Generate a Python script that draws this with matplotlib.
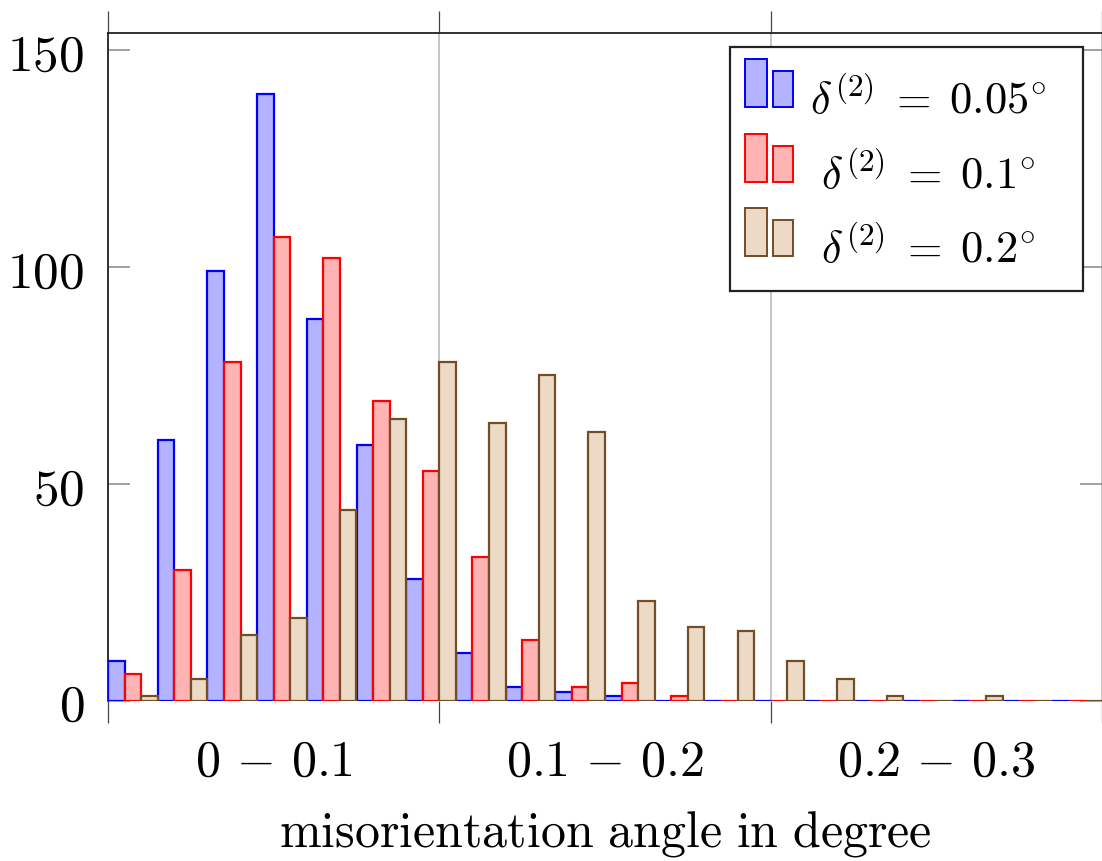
import numpy as np
import matplotlib
matplotlib.use("Agg")
import matplotlib.pyplot as plt
from matplotlib.patches import Rectangle

plt.rcParams['mathtext.fontset'] = 'cm'

# histogram of misorientation angles, 20 bins of 0.015 degree
bin_width = 0.015
bin_edges = np.arange(20) * bin_width

counts_005 = [9, 60, 99, 140, 88, 59, 28, 11, 3, 2, 1, 0, 0, 0, 0, 0, 0, 0, 0, 0]
counts_01 = [6, 30, 78, 107, 102, 69, 53, 33, 14, 3, 4, 1, 0, 0, 0, 0, 0, 0, 0, 0]
counts_02 = [1, 5, 15, 19, 44, 65, 78, 64, 75, 62, 23, 17, 16, 9, 5, 1, 0, 1, 0, 0]

series = [counts_005, counts_01, counts_02]
labels = [r'$\delta^{(2)}\;=\;0.05^{\circ}$', r'$\delta^{(2)}\;=\;0.1^{\circ}$', r'$\delta^{(2)}\;=\;0.2^{\circ}$']
fills = ['#b3b3ff', '#ffb3b3', '#ecd9c6']
edges = ['#0000ff', '#ff0000', '#734d26']

group_ticks = [0.05, 0.15, 0.25]
group_labels = [r'$0\,-\,0.1$', r'$0.1\,-\,0.2$', r'$0.2\,-\,0.3$']
yticks = [0, 50, 100, 150]

fig = plt.figure(figsize=(11.02, 8.62), dpi=100)
ax = fig.add_axes([108 / 1102, 160.5 / 862, 994 / 1102, 667.5 / 862])

w = bin_width / 3
for k in range(3):
    ax.bar(bin_edges + k * w, series[k], width=w, align='edge',
           color=fills[k], edgecolor=edges[k], linewidth=1.6, zorder=3)

ax.set_xlim(0, 0.3)
ax.set_ylim(0, 154)

# x: group boundaries as outward ticks + grid, labels between them
ax.set_xticks([0, 0.1, 0.2, 0.3], labels=['', '', '', ''])
ax.set_xticks(group_ticks, labels=group_labels, minor=True)
ax.tick_params(axis='x', which='major', direction='out', length=15.5, width=0.9,
               color='#444444', top=True, bottom=True)
ax.tick_params(axis='x', which='minor', length=0, pad=26, labelsize=36)
ax.grid(axis='x', which='major', color='#bbbbbb', linewidth=1.2, zorder=0)

ax.set_yticks(yticks, labels=[f'${t}$' for t in yticks])
ax.tick_params(axis='y', direction='in', length=15.5, width=1.3, color='#999999',
               left=True, right=True, pad=17, labelsize=37)

ax.spines['bottom'].set_visible(False)
ax.spines['right'].set_visible(False)
for s in ['left', 'top']:
    ax.spines[s].set_linewidth(1.3)
    ax.spines[s].set_color('#222222')

ax.set_xlabel(r'$\mathrm{misorientation\ angle\ in\ degree}$', fontsize=36, labelpad=17)


# legend drawn by hand (pgfplots style: two-bar icon, centred text)
def px(x, y):
    return (x - 108) / 994, (701.5 - y) / 667.5


x0, y0 = px(730, 292)
x1, y1 = px(1083, 48)
ax.add_patch(Rectangle((x0, y0), x1 - x0, y1 - y0, transform=ax.transAxes,
                       facecolor='white', edgecolor='#222222', linewidth=1.6,
                       zorder=5, clip_on=False))
for k in range(3):
    base = 108 + 74.5 * k
    bx, by = px(745, base)
    bx2, _ = px(767, base)
    _, ty = px(0, base - 48)
    _, ty2 = px(0, base - 36)
    sx, _ = px(773, base)
    sx2, _ = px(793, base)
    ax.add_patch(Rectangle((bx, by), bx2 - bx, ty - by, transform=ax.transAxes,
                           facecolor=fills[k], edgecolor=edges[k], linewidth=1.4, zorder=6))
    ax.add_patch(Rectangle((sx, by), sx2 - sx, ty2 - by, transform=ax.transAxes,
                           facecolor=fills[k], edgecolor=edges[k], linewidth=1.4, zorder=6))
    tx, tyb = px(928, base + 6)
    ax.text(tx, tyb, labels[k], transform=ax.transAxes, ha='center', va='baseline',
            fontsize=32, zorder=7)

fig.savefig('out.png', dpi=100)
